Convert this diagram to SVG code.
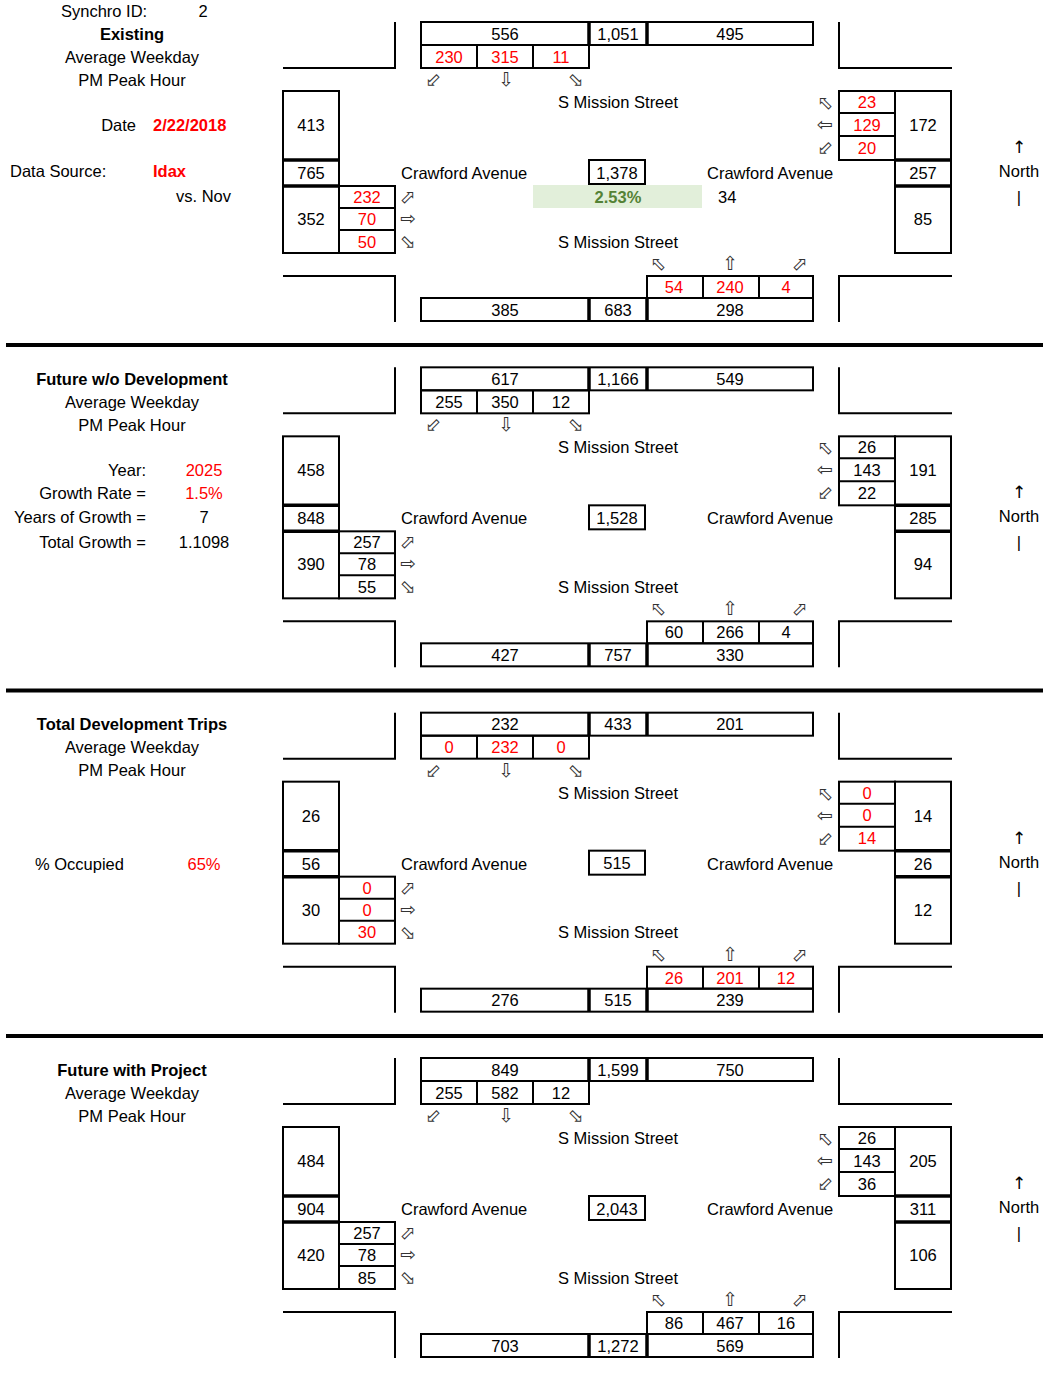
<svg xmlns="http://www.w3.org/2000/svg" xmlns:xlink="http://www.w3.org/1999/xlink" width="1043" height="1380" viewBox="0 0 1043 1380">
<style>
text{font-family:"Liberation Sans",Arial,sans-serif;font-size:16.5px;fill:#000}
.m{text-anchor:middle}
.e{text-anchor:end}
.b{font-weight:bold}
.r{fill:#FF0000}
.g{fill:#548235;font-weight:bold}
.ar{font-family:"DejaVu Sans",sans-serif;font-size:19px;fill:#333;text-anchor:middle}
.na{font-family:"DejaVu Sans",sans-serif;font-size:17px;text-anchor:middle}
.ln{fill:none;stroke:#000;stroke-width:2}
.tk{fill:none;stroke:#000;stroke-width:3.5}
</style>
<defs>
<g id="frame">
<g class="ln">
<polyline points="283,68 395,68 395,22"/>
<polyline points="839,22 839,68 952,68"/>
<polyline points="283,276 395,276 395,322"/>
<polyline points="839,322 839,276 952,276"/>
<rect x="421" y="22" width="392" height="23"/>
<rect x="421" y="45" width="168" height="23"/>
<line x1="477" y1="45" x2="477" y2="68"/>
<line x1="533" y1="45" x2="533" y2="68"/>
<rect x="283" y="91" width="56" height="162"/>
<rect x="339" y="186" width="56" height="67"/>
<line x1="339" y1="208" x2="395" y2="208"/>
<line x1="339" y1="230" x2="395" y2="230"/>
<rect x="839" y="91" width="56" height="69"/>
<line x1="839" y1="113" x2="895" y2="113"/>
<line x1="839" y1="136" x2="895" y2="136"/>
<rect x="895" y="91" width="56" height="162"/>
<rect x="647" y="276" width="166" height="22"/>
<line x1="703" y1="276" x2="703" y2="298"/>
<line x1="759" y1="276" x2="759" y2="298"/>
<rect x="421" y="298" width="392" height="23"/>
<rect x="589" y="160" width="56" height="24"/>
</g>
<g class="tk">
<line x1="589" y1="22" x2="589" y2="45"/>
<line x1="647" y1="22" x2="647" y2="45"/>
<line x1="283" y1="160" x2="339" y2="160"/>
<line x1="283" y1="186" x2="339" y2="186"/>
<line x1="895" y1="160" x2="951" y2="160"/>
<line x1="895" y1="186" x2="951" y2="186"/>
<line x1="589" y1="298" x2="589" y2="321"/>
<line x1="647" y1="298" x2="647" y2="321"/>
</g>
<g>
<text class="ar" x="433" y="86">⬃</text>
<text class="ar" x="506" y="86">⇩</text>
<text class="ar" x="576" y="86">⬂</text>
<text class="ar" x="408" y="203">⬀</text>
<text class="ar" x="408" y="225">⇨</text>
<text class="ar" x="408" y="248">⬂</text>
<text class="ar" x="825" y="109">⬁</text>
<text class="ar" x="825" y="131">⇦</text>
<text class="ar" x="825" y="154">⬃</text>
<text class="ar" x="658" y="270">⬁</text>
<text class="ar" x="730" y="270">⇧</text>
<text class="ar" x="800" y="270">⬀</text>
</g>
<text class="m" x="618" y="108">S Mission Street</text>
<text x="401" y="179">Crawford Avenue</text>
<text x="707" y="179">Crawford Avenue</text>
<text class="m" x="618" y="247.5">S Mission Street</text>
<text class="na" x="1019" y="153">↑</text>
<text class="m" x="1019" y="177">North</text>
<text class="m" x="1019" y="203">|</text>
</g>
</defs>

<g id="separators">
<rect x="6" y="343" width="1037" height="4" fill="#000"/>
<rect x="6" y="688.5" width="1037" height="4" fill="#000"/>
<rect x="6" y="1034" width="1037" height="4" fill="#000"/>
</g>

<g id="panel-existing">
<use xlink:href="#frame" href="#frame"/>
<g id="existing-info">
<text x="61" y="17">Synchro ID:</text>
<text class="m" x="203" y="17">2</text>
<text class="m b" x="132" y="39.5">Existing</text>
<text class="m" x="132" y="62.5">Average Weekday</text>
<text class="m" x="132" y="85.5">PM Peak Hour</text>
<text class="e" x="136" y="130.5">Date</text>
<text class="b r" x="153" y="130.5">2/22/2018</text>
<text x="10" y="177">Data Source:</text>
<text class="b r" x="153" y="177">Idax</text>
<text x="176" y="202">vs. Nov</text>
</g>
<g id="existing-north">
<text class="m" x="505" y="39.5">556</text>
<text class="m" x="618" y="39.5">1,051</text>
<text class="m" x="730" y="39.5">495</text>
<text class="m r" x="449" y="62.5">230</text>
<text class="m r" x="505" y="62.5">315</text>
<text class="m r" x="561" y="62.5">11</text>
</g>
<g id="existing-west">
<text class="m" x="311" y="131">413</text>
<text class="m" x="311" y="179">765</text>
<text class="m" x="311" y="225">352</text>
<text class="m r" x="367" y="203">232</text>
<text class="m r" x="367" y="225">70</text>
<text class="m r" x="367" y="247.5">50</text>
</g>
<g id="existing-east">
<text class="m r" x="867" y="108">23</text>
<text class="m r" x="867" y="130.5">129</text>
<text class="m r" x="867" y="153.5">20</text>
<text class="m" x="923" y="131">172</text>
<text class="m" x="923" y="179">257</text>
<text class="m" x="923" y="225">85</text>
</g>
<g id="existing-center">
<text class="m" x="617" y="178.5">1,378</text>
<rect x="533" y="185" width="169" height="23" fill="#E2EFDA"/>
<text class="m g" x="618" y="202.5">2.53%</text>
<text x="718" y="202.5">34</text>
</g>
<g id="existing-south">
<text class="m r" x="674" y="293">54</text>
<text class="m r" x="730" y="293">240</text>
<text class="m r" x="786" y="293">4</text>
<text class="m" x="505" y="315.5">385</text>
<text class="m" x="618" y="315.5">683</text>
<text class="m" x="730" y="315.5">298</text>
</g>
</g>

<g id="panel-future-no-dev" transform="translate(0,345.33)">
<use xlink:href="#frame" href="#frame"/>
<g id="fnd-info">
<text class="m b" x="132" y="39.5">Future w/o Development</text>
<text class="m" x="132" y="62.5">Average Weekday</text>
<text class="m" x="132" y="85.5">PM Peak Hour</text>
<text class="e" x="146" y="130.5">Year:</text>
<text class="m r" x="204" y="130.5">2025</text>
<text class="e" x="146" y="153.5">Growth Rate =</text>
<text class="m r" x="204" y="153.5">1.5%</text>
<text class="e" x="146" y="178">Years of Growth =</text>
<text class="m" x="204" y="178">7</text>
<text class="e" x="146" y="203">Total Growth =</text>
<text class="m" x="204" y="203">1.1098</text>
</g>
<g id="fnd-north">
<text class="m" x="505" y="39.5">617</text>
<text class="m" x="618" y="39.5">1,166</text>
<text class="m" x="730" y="39.5">549</text>
<text class="m" x="449" y="62.5">255</text>
<text class="m" x="505" y="62.5">350</text>
<text class="m" x="561" y="62.5">12</text>
</g>
<g id="fnd-west">
<text class="m" x="311" y="131">458</text>
<text class="m" x="311" y="179">848</text>
<text class="m" x="311" y="225">390</text>
<text class="m" x="367" y="203">257</text>
<text class="m" x="367" y="225">78</text>
<text class="m" x="367" y="247.5">55</text>
</g>
<g id="fnd-east">
<text class="m" x="867" y="108">26</text>
<text class="m" x="867" y="130.5">143</text>
<text class="m" x="867" y="153.5">22</text>
<text class="m" x="923" y="131">191</text>
<text class="m" x="923" y="179">285</text>
<text class="m" x="923" y="225">94</text>
</g>
<g id="fnd-center">
<text class="m" x="617" y="178.5">1,528</text>
</g>
<g id="fnd-south">
<text class="m" x="674" y="293">60</text>
<text class="m" x="730" y="293">266</text>
<text class="m" x="786" y="293">4</text>
<text class="m" x="505" y="315.5">427</text>
<text class="m" x="618" y="315.5">757</text>
<text class="m" x="730" y="315.5">330</text>
</g>
</g>

<g id="panel-dev-trips" transform="translate(0,690.67)">
<use xlink:href="#frame" href="#frame"/>
<g id="dev-info">
<text class="m b" x="132" y="39.5">Total Development Trips</text>
<text class="m" x="132" y="62.5">Average Weekday</text>
<text class="m" x="132" y="85.5">PM Peak Hour</text>
<text x="35" y="179">% Occupied</text>
<text class="m r" x="204" y="179">65%</text>
</g>
<g id="dev-north">
<text class="m" x="505" y="39.5">232</text>
<text class="m" x="618" y="39.5">433</text>
<text class="m" x="730" y="39.5">201</text>
<text class="m r" x="449" y="62.5">0</text>
<text class="m r" x="505" y="62.5">232</text>
<text class="m r" x="561" y="62.5">0</text>
</g>
<g id="dev-west">
<text class="m" x="311" y="131">26</text>
<text class="m" x="311" y="179">56</text>
<text class="m" x="311" y="225">30</text>
<text class="m r" x="367" y="203">0</text>
<text class="m r" x="367" y="225">0</text>
<text class="m r" x="367" y="247.5">30</text>
</g>
<g id="dev-east">
<text class="m r" x="867" y="108">0</text>
<text class="m r" x="867" y="130.5">0</text>
<text class="m r" x="867" y="153.5">14</text>
<text class="m" x="923" y="131">14</text>
<text class="m" x="923" y="179">26</text>
<text class="m" x="923" y="225">12</text>
</g>
<g id="dev-center">
<text class="m" x="617" y="178.5">515</text>
</g>
<g id="dev-south">
<text class="m r" x="674" y="293">26</text>
<text class="m r" x="730" y="293">201</text>
<text class="m r" x="786" y="293">12</text>
<text class="m" x="505" y="315.5">276</text>
<text class="m" x="618" y="315.5">515</text>
<text class="m" x="730" y="315.5">239</text>
</g>
</g>

<g id="panel-future-project" transform="translate(0,1036)">
<use xlink:href="#frame" href="#frame"/>
<g id="fwp-info">
<text class="m b" x="132" y="39.5">Future with Project</text>
<text class="m" x="132" y="62.5">Average Weekday</text>
<text class="m" x="132" y="85.5">PM Peak Hour</text>
</g>
<g id="fwp-north">
<text class="m" x="505" y="39.5">849</text>
<text class="m" x="618" y="39.5">1,599</text>
<text class="m" x="730" y="39.5">750</text>
<text class="m" x="449" y="62.5">255</text>
<text class="m" x="505" y="62.5">582</text>
<text class="m" x="561" y="62.5">12</text>
</g>
<g id="fwp-west">
<text class="m" x="311" y="131">484</text>
<text class="m" x="311" y="179">904</text>
<text class="m" x="311" y="225">420</text>
<text class="m" x="367" y="203">257</text>
<text class="m" x="367" y="225">78</text>
<text class="m" x="367" y="247.5">85</text>
</g>
<g id="fwp-east">
<text class="m" x="867" y="108">26</text>
<text class="m" x="867" y="130.5">143</text>
<text class="m" x="867" y="153.5">36</text>
<text class="m" x="923" y="131">205</text>
<text class="m" x="923" y="179">311</text>
<text class="m" x="923" y="225">106</text>
</g>
<g id="fwp-center">
<text class="m" x="617" y="178.5">2,043</text>
</g>
<g id="fwp-south">
<text class="m" x="674" y="293">86</text>
<text class="m" x="730" y="293">467</text>
<text class="m" x="786" y="293">16</text>
<text class="m" x="505" y="315.5">703</text>
<text class="m" x="618" y="315.5">1,272</text>
<text class="m" x="730" y="315.5">569</text>
</g>
</g>
</svg>
